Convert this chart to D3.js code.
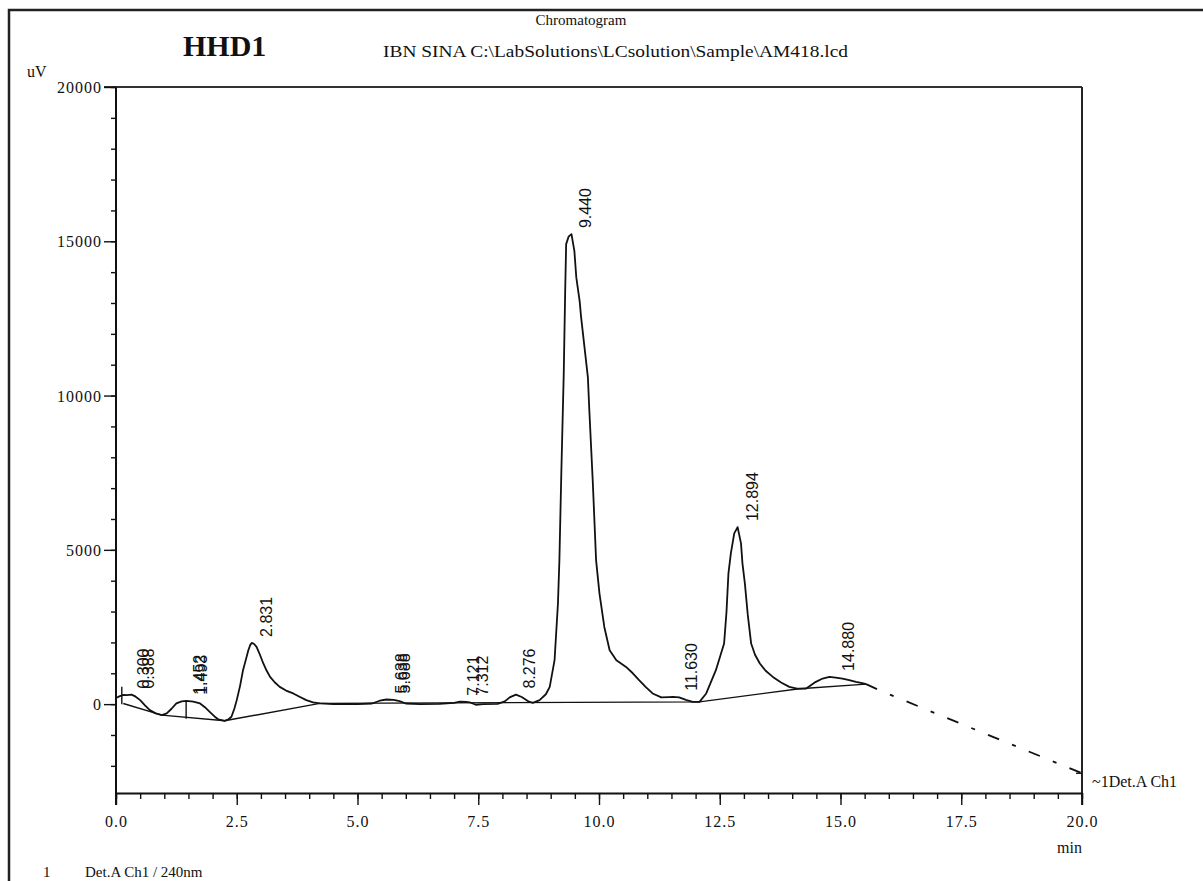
<!DOCTYPE html>
<meta charset="utf-8">
<script src="https://d3js.org/d3.v7.min.js"></script>
<style>
    body { margin: 0; background: #fff; }
    text { font-family: "Liberation Serif", "Times New Roman", serif; fill: #111; }
    .tick text { font-size: 16px; letter-spacing: 1px; }
    .peak { font-family: "Liberation Sans", Arial, sans-serif; font-size: 16px; }
</style>
<div id="chart"></div>
<script>
    // chromatogram trace (min, uV)
    var traceTime = [0.00, 0.08, 0.16, 0.22, 0.32, 0.40, 0.50, 0.60, 0.70, 0.82, 0.95, 1.05, 1.15, 1.25, 1.36, 1.46, 1.60, 1.74, 1.84, 1.94,
        2.04, 2.12, 2.25, 2.33, 2.39, 2.45, 2.50, 2.57, 2.63, 2.69, 2.74, 2.78, 2.81, 2.86, 2.91, 2.98, 3.05, 3.12, 3.19, 3.29,
        3.39, 3.52, 3.67, 3.80, 3.94, 4.08, 4.22, 4.50, 4.80, 5.00, 5.30, 5.46, 5.60, 5.75, 5.87, 6.00, 6.30, 6.70, 7.00, 7.12,
        7.25, 7.32, 7.45, 7.60, 7.90, 8.05, 8.15, 8.28, 8.40, 8.55, 8.63, 8.77, 8.90, 8.98, 9.08, 9.15, 9.18, 9.22, 9.27, 9.30,
        9.32, 9.37, 9.43, 9.49, 9.53, 9.60, 9.63, 9.70, 9.77, 9.80, 9.87, 9.94, 10.01, 10.11, 10.22, 10.36, 10.56, 10.70, 10.83, 10.97,
        11.11, 11.29, 11.45, 11.53, 11.66, 11.80, 11.94, 12.08, 12.22, 12.42, 12.59, 12.64, 12.68, 12.73, 12.80, 12.87, 12.94, 12.97, 13.02, 13.08,
        13.15, 13.23, 13.33, 13.45, 13.60, 13.77, 13.94, 14.10, 14.29, 14.49, 14.63, 14.77, 14.90, 15.04, 15.18, 15.32, 15.45, 15.53];
    var traceSignal = [200, 260, 300, 290, 310, 250, 130, -40, -194, -300, -356, -300, -150, 23, 90, 107, 80, 23, -100, -249,
        -400, -496, -540, -490, -410, -150, 130, 600, 1100, 1450, 1747, 1920, 1984, 1950, 1855, 1600, 1317, 1080, 884, 700,
        560, 440, 346, 240, 130, 60, 23, 0, 10, 0, 20, 110, 150, 140, 100, 20, 0, 10, 40, 80,
        70, 60, -20, 0, 10, 90, 220, 310, 230, 80, 42, 130, 320, 560, 1424, 3259, 4660, 7500, 10711, 13397,
        14908, 15150, 15232, 14690, 13830, 13050, 12533, 11562, 10590, 9514, 7250, 4660, 3582, 2501, 1747, 1424, 1207, 1000, 777, 550,
        346, 217, 230, 236, 217, 140, 74, 74, 346, 1100, 1964, 3000, 4239, 4886, 5534, 5737, 5210, 4563, 3916, 2900,
        1964, 1600, 1317, 1080, 883, 700, 560, 500, 507, 722, 830, 883, 860, 830, 780, 722, 680, 647];

    // dashed part after the last peak
    var tailTime = [15.53, 15.80, 17.0, 18.5, 20.0];
    var tailSignal = [647, 453, -320, -1280, -2240];

    // integration baseline
    var baselineTime = [0.15, 0.95, 2.25, 4.22, 12.08, 14.15, 15.53];
    var baselineSignal = [20, -356, -540, 23, 74, 500, 647];

    // drop lines
    var dropTime = [0.12, 1.452];
    var dropFrom = [0, -470];
    var dropTo = [560, 107];

    // peak labels
    var peakLabels = ["0.300", "0.388", "1.452", "1.493", "2.831", "5.638", "5.688", "7.121", "7.312", "8.276", "9.440", "11.630", "12.894", "14.880"];
    var peakHeights = [310, 310, 107, 107, 1984, 150, 150, 80, 80, 310, 15232, 236, 5737, 883];

    var xMajor = d3.range(0, 20.01, 2.5);
    var xMinor = d3.range(0, 20.01, 0.5);
    var yMajor = [0, 5000, 10000, 15000, 20000];
    var yMinor = d3.range(-2000, 20001, 1000);

    var W = 1203, H = 881;
    var plot = { left: 116, right: 1082, top: 87, bottom: 793 };

    var svg = d3.select("#chart").append("svg")
        .attr("width", W)
        .attr("height", H);

    svg.append("rect").attr("width", W).attr("height", H).attr("fill", "#fff");

    var x = d3.scaleLinear().domain([0, 20]).range([plot.left, plot.right]);
    var y = d3.scaleLinear().domain([-2880, 20000]).range([plot.bottom, plot.top]);

    // page frame
    svg.append("path")
        .attr("d", "M9,881 L9,10 L1203,10")
        .attr("fill", "none")
        .attr("stroke", "#222")
        .attr("stroke-width", 2.5);

    // plot frame top / right
    svg.append("line")
        .attr("x1", plot.left - 12).attr("x2", plot.right)
        .attr("y1", plot.top).attr("y2", plot.top)
        .attr("stroke", "#333").attr("stroke-width", 2);
    svg.append("line")
        .attr("x1", plot.right).attr("x2", plot.right)
        .attr("y1", plot.top).attr("y2", plot.bottom + 12)
        .attr("stroke", "#222").attr("stroke-width", 2);

    // y axis
    var yMinorAxis = svg.append("g")
        .attr("transform", "translate(" + plot.left + ",0)")
        .call(d3.axisLeft(y).tickValues(yMinor).tickSize(5).tickFormat(""));
    yMinorAxis.select(".domain").remove();

    var yAxis = svg.append("g")
        .attr("transform", "translate(" + plot.left + ",0)")
        .call(d3.axisLeft(y).tickValues(yMajor).tickSize(12).tickSizeOuter(0).tickFormat(d3.format("d")));
    yAxis.selectAll("text").attr("x", -14).attr("dy", "0.35em").attr("font-family", null).attr("font-size", null);

    // x axis
    var xMinorAxis = svg.append("g")
        .attr("transform", "translate(0," + plot.bottom + ")")
        .call(d3.axisBottom(x).tickValues(xMinor).tickSize(6).tickFormat(""));
    xMinorAxis.select(".domain").remove();

    var xAxis = svg.append("g")
        .attr("transform", "translate(0," + plot.bottom + ")")
        .call(d3.axisBottom(x).tickValues(xMajor).tickSize(12).tickSizeOuter(0).tickFormat(d3.format(".1f")));
    xAxis.selectAll("text").attr("y", 23).attr("dy", "0.71em").attr("font-family", null).attr("font-size", null);

    svg.selectAll(".domain").attr("stroke", "#111").attr("stroke-width", 2);
    svg.selectAll(".tick line").attr("stroke", "#111").attr("stroke-width", 1.4);
    yAxis.select(".domain").attr("d", "M0," + plot.top + "V" + (plot.bottom + 12));

    // baseline
    var line = d3.line()
        .x(function(d) { return x(d[0]); })
        .y(function(d) { return y(d[1]); });

    svg.append("path")
        .datum(baselineTime.map(function(t, i) { return [t, baselineSignal[i]]; }))
        .attr("fill", "none")
        .attr("stroke", "#111")
        .attr("stroke-width", 1.4)
        .attr("d", line);

    // drop lines
    svg.selectAll(".drop")
        .data(dropTime)
        .enter().append("line")
        .attr("class", "drop")
        .attr("x1", function(d) { return x(d); })
        .attr("x2", function(d) { return x(d); })
        .attr("y1", function(d, i) { return y(dropFrom[i]); })
        .attr("y2", function(d, i) { return y(dropTo[i]); })
        .attr("stroke", "#111")
        .attr("stroke-width", 1.4);

    // trace
    svg.append("path")
        .datum(traceTime.map(function(t, i) { return [t, traceSignal[i]]; }))
        .attr("fill", "none")
        .attr("stroke", "#111")
        .attr("stroke-width", 1.8)
        .attr("stroke-linejoin", "round")
        .attr("d", line);

    svg.append("path")
        .datum(tailTime.map(function(t, i) { return [t, tailSignal[i]]; }))
        .attr("fill", "none")
        .attr("stroke", "#111")
        .attr("stroke-width", 1.8)
        .attr("stroke-dasharray", "12,14,4,14")
        .attr("d", line);

    // end marker on right axis
    svg.append("line")
        .attr("x1", plot.right - 6).attr("x2", plot.right)
        .attr("y1", y(tailSignal[tailSignal.length - 1])).attr("y2", y(tailSignal[tailSignal.length - 1]))
        .attr("stroke", "#111").attr("stroke-width", 1.4);

    // peak labels
    svg.selectAll(".peak")
        .data(peakLabels)
        .enter().append("text")
        .attr("class", "peak")
        .attr("transform", function(d, i) {
            return "translate(" + (x(+d) + 19) + "," + (y(peakHeights[i]) - 6) + ") rotate(-90)";
        })
        .text(function(d) { return d; });

    // texts
    svg.append("text").attr("x", 183).attr("y", 56)
        .attr("font-size", 30).attr("font-weight", "bold").text("HHD1");
    svg.append("text").attr("x", 581).attr("y", 25).attr("text-anchor", "middle")
        .attr("font-size", 15).text("Chromatogram");
    svg.append("text").attr("x", 383).attr("y", 57)
        .attr("font-size", 17).attr("textLength", 465).attr("lengthAdjust", "spacingAndGlyphs")
        .text("IBN SINA C:\\LabSolutions\\LCsolution\\Sample\\AM418.lcd");
    svg.append("text").attr("x", 27).attr("y", 77).attr("font-size", 16).text("uV");
    svg.append("text").attr("x", plot.right).attr("y", 853).attr("text-anchor", "end")
        .attr("font-size", 16).text("min");
    svg.append("text").attr("x", 1092).attr("y", 787).attr("font-size", 16).text("~1Det.A Ch1");
    svg.append("text").attr("x", 43).attr("y", 877).attr("font-size", 15).text("1");
    svg.append("text").attr("x", 85).attr("y", 877).attr("font-size", 15).text("Det.A Ch1 / 240nm");
</script>
